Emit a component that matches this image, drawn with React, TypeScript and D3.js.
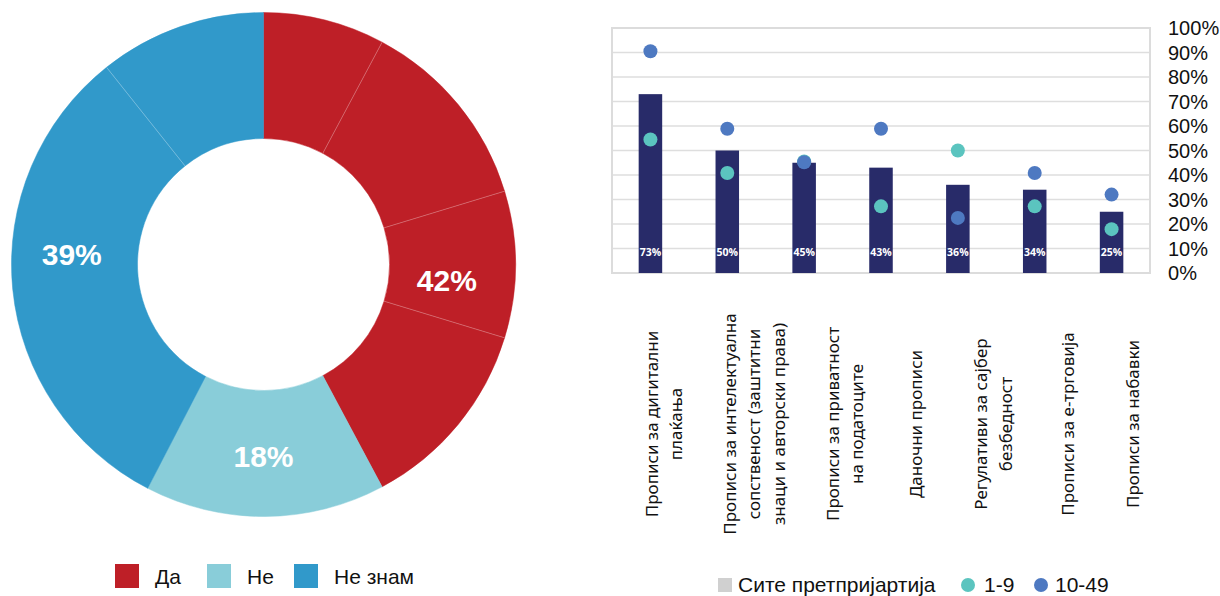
import React from "react";
import * as d3 from "d3";

// ---------- Donut data ----------
const donutCategories = ["Да", "Не", "Не знам"];
const donutLabels = ["42%", "18%", "39%"];
const donutColors = ["#be1f27", "#89cdd9", "#3199ca"];
// segments as drawn in the ring (percent of the circle)
const donutSegCats = ["Да", "Да", "Да", "Да", "Не", "Не знам", "Не знам"];
const donutSegValues = [7.8, 12.5, 9.4, 12.5, 15.4, 31.7, 10.7];
// label placement (degrees clockwise from top)
const donutLabelAngles = [95, 180, 273];

// ---------- Bar chart data ----------
const barCategories = [
  ["Прописи за дигитални", "плаќања"],
  ["Прописи за интелектуална", "сопственост (заштитни", "знаци и авторски права)"],
  ["Прописи за приватност", "на податоците"],
  ["Даночни прописи"],
  ["Регулативи за сајбер", "безбедност"],
  ["Прописи за е-трговија"],
  ["Прописи за набавки"],
];
const allValues = [73, 50, 45, 43, 36, 34, 25];
const small19 = [54.5, 40.8, 45.5, 27.2, 50, 27.2, 17.9];
const medium1049 = [90.5, 58.9, 45.2, 58.9, 22.5, 40.8, 32];
const yTicks = [0, 10, 20, 30, 40, 50, 60, 70, 80, 90, 100];
const labelOffsets = [1, 2, 28, 34, 23, 33, 21];

const BAR = "#282b69";
const TEAL = "#5bc4bf";
const BLUE = "#4e79c1";

export default function App() {
  const cx = 263.5, cy = 264.5, rOut = 252, rIn = 126;
  const pie = d3.pie<number>().sort(null).value((d) => d)(donutSegValues);
  const arc = d3.arc<any>().innerRadius(rIn).outerRadius(rOut);
  const color = d3.scaleOrdinal<string, string>().domain(donutCategories).range(donutColors);

  const left = 612, right = 1150, top = 28, bottom = 273;
  const ids = barCategories.map((_, i) => String(i));
  const x = d3.scaleBand().domain(ids).range([left, right]).paddingInner(0.694).paddingOuter(0.347);
  const y = d3.scaleLinear().domain([0, 100]).range([bottom, top]);
  const sansB = "'Liberation Sans', Arial, sans-serif";

  return (
    <svg width={1220} height={596} style={{ position: "absolute", left: 0, top: 0 }}>
      <rect width={1220} height={596} fill="#fff" />
      {/* Donut */}
      <g transform={`translate(${cx},${cy})`}>
        {pie.map((p, i) => (
          <path key={i} d={arc(p) as string} fill={color(donutSegCats[i])} stroke={color(donutSegCats[i])} strokeWidth={0.5} />
        ))}
        {pie.map((p, i) =>
          i > 0 && donutSegCats[i] === donutSegCats[i - 1] ? (
            <line
              key={"s" + i}
              x1={Math.sin(p.startAngle) * rIn}
              y1={-Math.cos(p.startAngle) * rIn}
              x2={Math.sin(p.startAngle) * rOut}
              y2={-Math.cos(p.startAngle) * rOut}
              stroke="#ffffff"
              strokeOpacity={0.35}
              strokeWidth={0.8}
            />
          ) : null
        )}
        {donutLabels.map((t, i) => {
          const a = (donutLabelAngles[i] * Math.PI) / 180;
          const r = i === 0 ? 184 : 192;
          return (
            <text key={t} x={Math.sin(a) * r} y={-Math.cos(a) * r} textAnchor="middle" dominantBaseline="central"
              fill="#fff" fontFamily={sansB} fontWeight="bold" fontSize={30}>
              {t}
            </text>
          );
        })}
      </g>
      {/* Donut legend */}
      {donutCategories.map((c, i) => {
        const lx = [115, 207, 294][i];
        return (
          <g key={c}>
            <rect x={lx} y={564} width={24} height={24} fill={donutColors[i]} />
            <text x={lx + 40} y={576} dominantBaseline="central" fontFamily={sansB} fontSize={21} fill="#111">{c}</text>
          </g>
        );
      })}

      {/* Bar chart frame & grid */}
      {yTicks.map((t) => (
        <line key={t} x1={left} x2={right} y1={y(t)} y2={y(t)} stroke="#dedede" strokeWidth={1.3} />
      ))}
      <rect x={left} y={top} width={right - left} height={bottom - top} fill="none" stroke="#dcdcdc" strokeWidth={2} />
      {yTicks.map((t) => (
        <text key={"l" + t} x={1168} y={y(t)} dominantBaseline="central" fontFamily={sansB} fontSize={20} fill="#111">
          {t}%
        </text>
      ))}
      {allValues.map((v, i) => (
        <rect key={"b" + i} x={x(ids[i])} y={y(v)} width={x.bandwidth()} height={y(0) - y(v)} fill={BAR} />
      ))}
      {allValues.map((v, i) => (
        <text key={"bl" + i} x={(x(ids[i]) as number) + x.bandwidth() / 2} y={252} textAnchor="middle" dominantBaseline="central"
          fill="#fff" fontFamily="'Open Sans', sans-serif" fontWeight="bold" fontSize={10.5}>
          {v}%
        </text>
      ))}
      {small19.map((v, i) => (
        <circle key={"t" + i} cx={(x(ids[i]) as number) + x.bandwidth() / 2} cy={y(v)} r={7} fill={TEAL} />
      ))}
      {medium1049.map((v, i) => (
        <circle key={"m" + i} cx={(x(ids[i]) as number) + x.bandwidth() / 2} cy={y(v)} r={7} fill={BLUE} />
      ))}
      {barCategories.map((lines, i) => {
        const bx = (x(ids[i]) as number) + x.bandwidth() / 2 + labelOffsets[i];
        return (
          <text key={"c" + i} transform={`translate(${bx},424) rotate(-90)`} textAnchor="middle"
            fontFamily="'Noto Sans', sans-serif" fontSize={17} fill="#111">
            {lines.map((ln, j) => (
              <tspan key={j} x={0} y={j * 24.5} dominantBaseline="central">{ln}</tspan>
            ))}
          </text>
        );
      })}
      {/* Bar legend */}
      <rect x={718} y={578} width={14} height={14} fill="#d0d0d0" />
      <text x={738} y={584} dominantBaseline="central" fontFamily={sansB} fontSize={21} fill="#111">Сите претпријартија</text>
      <circle cx={968} cy={585} r={7} fill={TEAL} />
      <text x={984} y={584} dominantBaseline="central" fontFamily={sansB} fontSize={21} fill="#111">1-9</text>
      <circle cx={1041} cy={585} r={7} fill={BLUE} />
      <text x={1055} y={584} dominantBaseline="central" fontFamily={sansB} fontSize={21} fill="#111">10-49</text>
    </svg>
  );
}
